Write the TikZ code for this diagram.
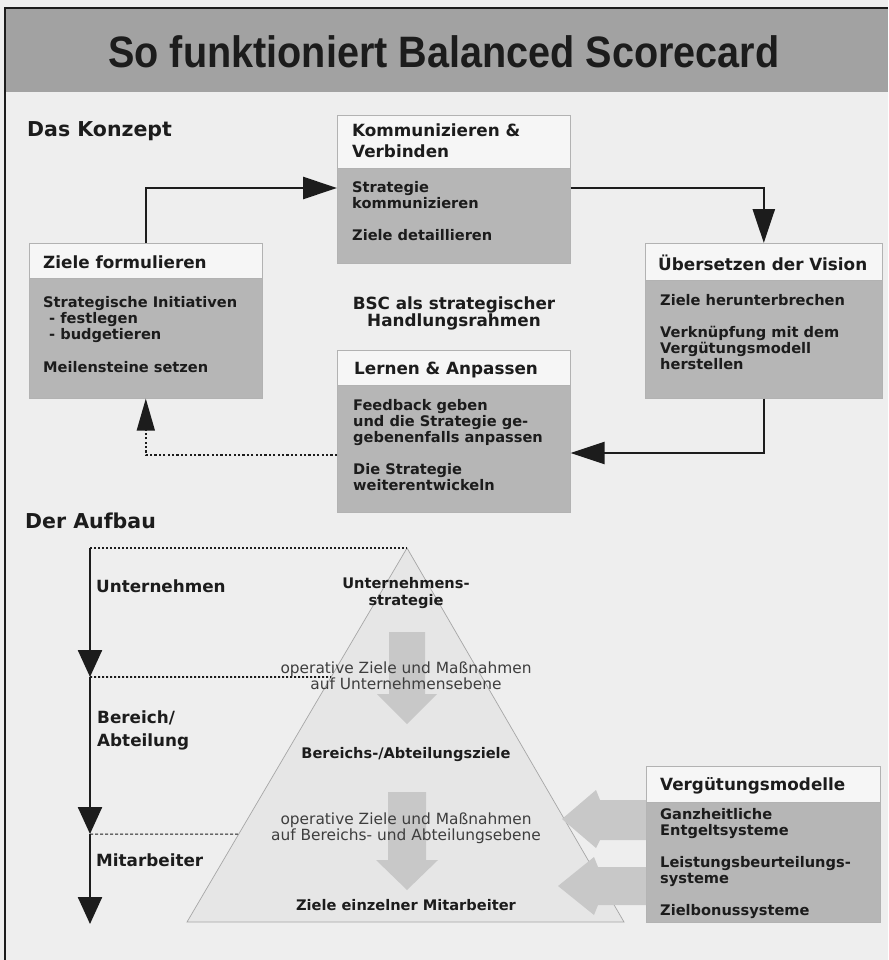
\documentclass[tikz,border=0pt]{standalone}
\usepackage{fontspec}
\setmainfont{DejaVu Sans}
\newfontfamily\titlefont[FakeStretch=0.9]{Liberation Sans}
\usetikzlibrary{arrows.meta,calc}
\definecolor{ink}{HTML}{1C1C1C}
\definecolor{bggray}{HTML}{EEEEEE}
\definecolor{hdgray}{HTML}{F6F6F6}
\definecolor{bdgray}{HTML}{B6B6B6}
\definecolor{bandgray}{HTML}{A2A2A2}
\definecolor{pyrgray}{HTML}{E6E6E6}
\definecolor{blockgray}{HTML}{C8C8C8}
\newcommand\hdrfont{\fontsize{16.8}{21}\selectfont\bfseries}
\newcommand\bdyfont{\fontsize{14.6}{16.2}\selectfont\bfseries}
\newcommand\secfont{\fontsize{20.5}{24}\selectfont\bfseries}
\newcommand\pyrreg{\fontsize{15.4}{16}\selectfont}
\newcommand\pyrbold{\fontsize{14.6}{17}\selectfont\bfseries}
\begin{document}
\begin{tikzpicture}[x=1pt,y=-1pt,
  hbox/.style={draw=gray!60, line width=0.6pt, fill=hdgray, anchor=north west, inner sep=0pt, minimum width=#1},
  bbox/.style={draw=gray!60, line width=0.6pt, fill=bdgray, anchor=north west, inner sep=0pt, minimum width=#1},
  txt/.style={text=ink, inner sep=0pt, anchor=base west, align=left},
  ctxt/.style={text=ink, inner sep=0pt, anchor=base, align=center},
  bigarrow/.style={line width=2.6pt, draw=ink, -{Triangle[length=34pt,width=22pt]}},
  dotarrow/.style={line width=1.6pt, draw=ink, dash pattern=on 2.2pt off 2.2pt, -{Triangle[length=32pt,width=18pt]}},
  downarrow/.style={line width=2.4pt, draw=ink, -{Triangle[length=27pt,width=24pt]}},
  levelline/.style={line width=1.8pt, draw=ink, dash pattern=on 2pt off 2pt},
  thinlevel/.style={line width=1pt, draw=ink, dash pattern=on 3pt off 2pt},
  block/.style={fill=blockgray, draw=none}]
\useasboundingbox (0,0) rectangle (888,960);
% background and frame
\fill[bggray] (0,0) rectangle (888,960);
\fill[bandgray] (5,8) rectangle (888,92);
\draw[ink, line width=1.5pt] (5,960) -- (5,8) -- (888,8);
\node[text=ink, inner sep=0pt] (title) at (444,52) {\titlefont\fontsize{44}{50}\selectfont\bfseries So funktioniert Balanced Scorecard};

% section titles
\node[txt, font=\secfont] (konzept) at (27,137) {Das Konzept};
\node[txt, font=\secfont] (aufbau) at (25,528) {Der Aufbau};

% Kommunizieren & Verbinden
\node[hbox=233pt, minimum height=53pt] (kh) at (337,115) {};
\node[bbox=233pt, minimum height=95pt] (kb) at (337,168) {};
\node[txt, font=\hdrfont] (kt) at (352,158) {Kommunizieren \&\\Verbinden};
\node[txt, font=\bdyfont] (kx) at (352,240.4) {Strategie\\kommunizieren\\[16pt]Ziele detaillieren};

% Ziele formulieren
\node[hbox=233pt, minimum height=35pt] (zh) at (29,243) {};
\node[bbox=233pt, minimum height=120pt] (zb) at (29,278) {};
\node[txt, font=\hdrfont] (zt) at (43,268) {Ziele formulieren};
\node[txt, font=\bdyfont] (zx) at (43,372.6) {Strategische Initiativen\\\hspace*{6pt}- festlegen\\\hspace*{6pt}- budgetieren\\[17pt]Meilensteine setzen};

% Uebersetzen der Vision
\node[hbox=237pt, minimum height=37pt] (uh) at (645,243) {};
\node[bbox=237pt, minimum height=118pt] (ub) at (645,280) {};
\node[txt, font=\hdrfont] (ut) at (658,270) {Übersetzen der Vision};
\node[txt, font=\bdyfont] (ux) at (660,369.6) {Ziele herunterbrechen\\[16pt]Verknüpfung mit dem\\Vergütungsmodell\\herstellen};

% BSC label
\node[ctxt, font=\fontsize{16.8}{17}\selectfont\bfseries] (bsc) at (454,326) {BSC als strategischer\\Handlungsrahmen};

% Lernen & Anpassen
\node[hbox=233pt, minimum height=35pt] (lh) at (337,350) {};
\node[bbox=233pt, minimum height=127pt] (lb) at (337,385) {};
\node[txt, font=\hdrfont] (lt) at (354,374) {Lernen \& Anpassen};
\node[txt, font=\bdyfont] (lx) at (353,490.8) {Feedback geben\\und die Strategie ge-\\gebenenfalls anpassen\\[16pt]Die Strategie\\weiterentwickeln};

% cycle arrows
\draw[bigarrow] (zh.north) |- ([yshift=-20pt]kb.north west);
\draw[bigarrow] ([yshift=-20pt]kb.north east) -| (uh.north);
\draw[bigarrow] (ub.south) |- ([yshift=-68pt]lb.north east);
\draw[dotarrow] ([yshift=-70pt]lb.north west) -| (zb.south);

% Der Aufbau: pyramid
\coordinate (apex) at (407,548);
\coordinate (bl) at (187,922);
\coordinate (br) at (624,922);
\fill[pyrgray] (apex) -- (bl) -- (br) -- cycle;
\draw[gray!70, line width=0.7pt] (apex) -- (bl) -- (br) -- cycle;

% gray block arrows inside pyramid
\fill[block] (389,632) -- (425,632) -- (425,694) -- (437,694) -- (407,724) -- (377,694) -- (389,694) -- cycle;
\fill[block] (388,792) -- (426,792) -- (426,860) -- (438,860) -- (407,890) -- (376,860) -- (388,860) -- cycle;

% Verguetungsmodelle
\node[hbox=234pt, minimum height=36pt] (vh) at (646,766) {};
\node[bbox=234pt, minimum height=120pt] (vb) at (646,802) {};
\node[txt, font=\hdrfont] (vt) at (660,790) {Vergütungsmodelle};
\node[txt, font=\bdyfont] (vx) at (660,915.8) {Ganzheitliche\\Entgeltsysteme\\[16pt]Leistungsbeurteilungs-\\systeme\\[16pt]Zielbonussysteme};

% gray arrows from Verguetungsmodelle to pyramid
\fill[block] (vb.west |- 0,800) -- (600,800) -- (596,790) -- (562,819) -- (596,848) -- (600,840) -- (vb.west |- 0,840) -- cycle;
\fill[block] (vb.west |- 0,867) -- (598,867) -- (594,857) -- (558,886) -- (594,915) -- (598,905) -- (vb.west |- 0,905) -- cycle;

% pyramid texts
\node[ctxt, font=\pyrbold] (p1) at (406,605) {Unternehmens-\\strategie};
\node[ctxt, font=\pyrreg, text=ink!85] (p2) at (406,689) {operative Ziele und Maßnahmen\\auf Unternehmensebene};
\node[ctxt, font=\pyrbold] (p3) at (406,758) {Bereichs-/Abteilungsziele};
\node[ctxt, font=\pyrreg, text=ink!85] (p4) at (406,840) {operative Ziele und Maßnahmen\\auf Bereichs- und Abteilungsebene};
\node[ctxt, font=\pyrbold] (p5) at (406,910) {Ziele einzelner Mitarbeiter};

% levels
\coordinate (a0) at (90,548);
\coordinate (a1) at (90,677);
\coordinate (a2) at (90,834);
\coordinate (a3) at (90,924);
\coordinate (e1) at ($(apex)!0.345!(bl)$);
\coordinate (e2) at ($(apex)!0.765!(bl)$);
\draw[levelline] (a0) -- (apex);
\draw[levelline] (a1) -- (e1);
\draw[thinlevel] (a2) -- (e2);
\draw[downarrow] (a0) -- (a1);
\draw[downarrow] (a1) -- (a2);
\draw[downarrow] (a2) -- (a3);
\node[txt, font=\hdrfont] (l1) at (96,592) {Unternehmen};
\node[txt, font=\fontsize{16.8}{23}\selectfont\bfseries] (l2) at (97,746) {Bereich/\\Abteilung};
\node[txt, font=\hdrfont] (l3) at (96,866) {Mitarbeiter};
\end{tikzpicture}
\end{document}
